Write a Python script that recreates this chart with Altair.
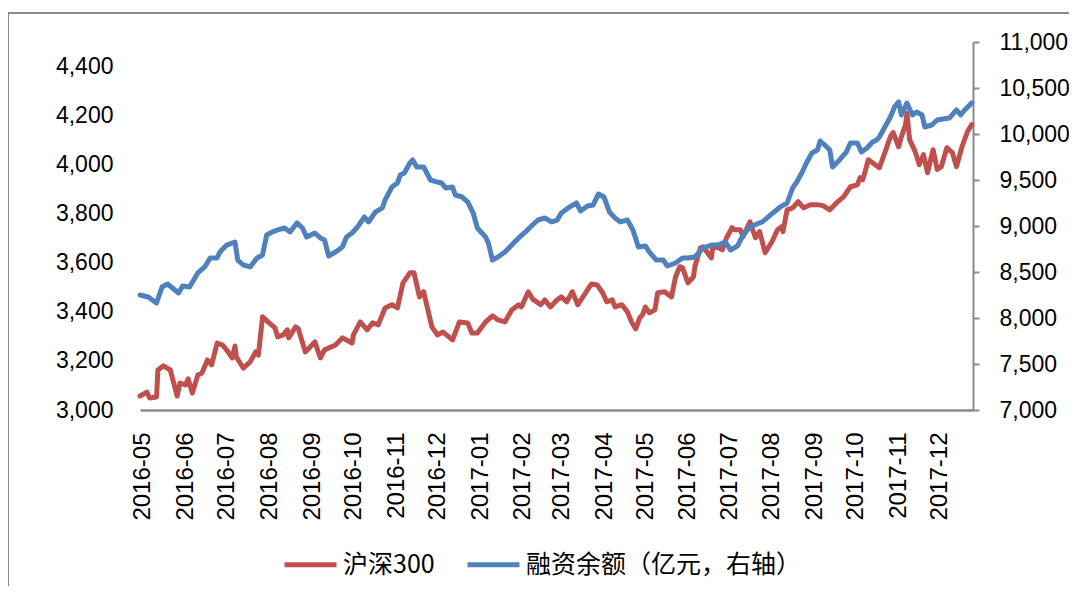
import altair as alt
import pandas as pd

# 沪深300 (left axis)
red_dates = [
    "2016-05-03", "2016-05-08", "2016-05-10", "2016-05-15", "2016-05-16", "2016-05-20", "2016-05-25",
    "2016-05-30", "2016-06-01", "2016-06-05", "2016-06-07", "2016-06-10", "2016-06-14", "2016-06-17",
    "2016-06-21", "2016-06-24", "2016-06-28", "2016-07-02", "2016-07-06", "2016-07-09", "2016-07-11",
    "2016-07-12", "2016-07-17", "2016-07-22", "2016-07-26", "2016-07-28", "2016-07-31", "2016-08-04",
    "2016-08-09", "2016-08-11", "2016-08-15", "2016-08-18", "2016-08-19", "2016-08-24", "2016-08-26",
    "2016-08-31", "2016-09-03", "2016-09-07", "2016-09-11", "2016-09-14", "2016-09-22", "2016-09-27",
    "2016-10-04", "2016-10-05", "2016-10-10", "2016-10-15", "2016-10-19", "2016-10-23", "2016-10-28",
    "2016-11-02", "2016-11-06", "2016-11-10", "2016-11-15", "2016-11-18", "2016-11-22", "2016-11-25",
    "2016-12-01", "2016-12-05", "2016-12-09", "2016-12-16", "2016-12-21", "2016-12-27", "2016-12-30",
    "2017-01-03", "2017-01-09", "2017-01-14", "2017-01-18", "2017-01-23", "2017-01-28", "2017-02-02",
    "2017-02-04", "2017-02-09", "2017-02-12", "2017-02-18", "2017-02-21", "2017-02-25", "2017-03-02",
    "2017-03-05", "2017-03-09", "2017-03-13", "2017-03-17", "2017-03-24", "2017-03-27", "2017-03-31",
    "2017-04-04", "2017-04-07", "2017-04-11", "2017-04-13", "2017-04-18", "2017-04-22", "2017-04-25",
    "2017-04-28", "2017-05-01", "2017-05-03", "2017-05-05", "2017-05-08", "2017-05-12", "2017-05-14",
    "2017-05-19", "2017-05-24", "2017-05-27", "2017-05-30", "2017-06-01", "2017-06-05", "2017-06-09",
    "2017-06-10", "2017-06-14", "2017-06-16", "2017-06-22", "2017-06-23", "2017-06-27", "2017-06-30",
    "2017-07-03", "2017-07-07", "2017-07-09", "2017-07-13", "2017-07-15", "2017-07-20", "2017-07-24",
    "2017-07-27", "2017-07-31", "2017-08-05", "2017-08-09", "2017-08-12", "2017-08-13", "2017-08-16",
    "2017-08-20", "2017-08-24", "2017-08-28", "2017-09-02", "2017-09-07", "2017-09-11", "2017-09-16",
    "2017-09-21", "2017-09-26", "2017-10-01", "2017-10-06", "2017-10-08", "2017-10-10", "2017-10-14",
    "2017-10-19", "2017-10-22", "2017-10-26", "2017-10-30", "2017-11-01", "2017-11-05", "2017-11-07",
    "2017-11-10", "2017-11-11", "2017-11-13", "2017-11-17", "2017-11-20", "2017-11-23", "2017-11-26",
    "2017-11-30", "2017-12-03", "2017-12-06", "2017-12-10", "2017-12-14", "2017-12-17", "2017-12-21",
    "2017-12-25", "2017-12-28",
]
red_values = [
    3057, 3073, 3049, 3053, 3163, 3180, 3163,
    3057, 3110, 3102, 3127, 3069, 3143, 3151,
    3204, 3184, 3273, 3265, 3237, 3212, 3261,
    3216, 3171, 3196, 3237, 3224, 3380, 3359,
    3335, 3298, 3306, 3327, 3294, 3339, 3331,
    3237, 3253, 3278, 3212, 3245, 3265, 3294,
    3273, 3306, 3359, 3327, 3355, 3347, 3416,
    3429, 3416, 3518, 3559, 3559, 3461, 3482,
    3339, 3306, 3318, 3286, 3359, 3355, 3314,
    3314, 3359, 3384, 3367, 3359, 3408, 3429,
    3420, 3482, 3453, 3429, 3449, 3420, 3449,
    3461, 3441, 3482, 3429, 3490, 3514, 3510,
    3478, 3441, 3449, 3420, 3429, 3400, 3359,
    3331, 3376, 3388, 3420, 3396, 3408, 3478,
    3482, 3461, 3543, 3584, 3580, 3518, 3543,
    3584, 3661, 3665, 3620, 3665, 3661, 3653,
    3702, 3743, 3735, 3735, 3706, 3767, 3702,
    3727, 3641, 3686, 3735, 3747, 3727, 3816,
    3824, 3849, 3824, 3837, 3837, 3833, 3816,
    3845, 3869, 3910, 3918, 3947, 3939, 4020,
    4000, 3988, 4049, 4114, 4131, 4073, 4114,
    4163, 4210, 4102, 4053, 4000, 4041, 3967,
    4061, 3980, 3992, 4069, 4049, 3992, 4073,
    4135, 4163,
]

# 融资余额 (right axis)
blue_dates = [
    "2016-05-03", "2016-05-09", "2016-05-15", "2016-05-19", "2016-05-23", "2016-05-31", "2016-06-03",
    "2016-06-08", "2016-06-14", "2016-06-19", "2016-06-23", "2016-06-28", "2016-06-30", "2016-07-05",
    "2016-07-09", "2016-07-11", "2016-07-13", "2016-07-17", "2016-07-22", "2016-07-27", "2016-07-31",
    "2016-08-03", "2016-08-07", "2016-08-11", "2016-08-16", "2016-08-20", "2016-08-25", "2016-08-29",
    "2016-09-01", "2016-09-07", "2016-09-11", "2016-09-14", "2016-09-17", "2016-09-22", "2016-09-27",
    "2016-09-30", "2016-10-04", "2016-10-08", "2016-10-13", "2016-10-16", "2016-10-21", "2016-10-26",
    "2016-10-28", "2016-11-02", "2016-11-06", "2016-11-08", "2016-11-11", "2016-11-15", "2016-11-17",
    "2016-11-20", "2016-11-25", "2016-11-30", "2016-12-05", "2016-12-08", "2016-12-11", "2016-12-16",
    "2016-12-18", "2016-12-23", "2016-12-27", "2016-12-31", "2017-01-03", "2017-01-09", "2017-01-11",
    "2017-01-14", "2017-01-18", "2017-01-23", "2017-01-28", "2017-02-02", "2017-02-07", "2017-02-12",
    "2017-02-16", "2017-02-21", "2017-02-26", "2017-03-02", "2017-03-05", "2017-03-10", "2017-03-16",
    "2017-03-19", "2017-03-24", "2017-03-28", "2017-04-01", "2017-04-05", "2017-04-09", "2017-04-13",
    "2017-04-17", "2017-04-22", "2017-04-26", "2017-04-30", "2017-05-05", "2017-05-08", "2017-05-13",
    "2017-05-18", "2017-05-21", "2017-05-27", "2017-06-01", "2017-06-05", "2017-06-10", "2017-06-16",
    "2017-06-22", "2017-06-27", "2017-07-02", "2017-07-06", "2017-07-11", "2017-07-15", "2017-07-20",
    "2017-07-25", "2017-07-29", "2017-08-04", "2017-08-11", "2017-08-16", "2017-08-20", "2017-08-23",
    "2017-08-27", "2017-08-30", "2017-09-03", "2017-09-07", "2017-09-09", "2017-09-13", "2017-09-16",
    "2017-09-18", "2017-09-23", "2017-09-28", "2017-10-01", "2017-10-06", "2017-10-09", "2017-10-13",
    "2017-10-17", "2017-10-20", "2017-10-22", "2017-10-26", "2017-10-30", "2017-11-02", "2017-11-05",
    "2017-11-07", "2017-11-11", "2017-11-15", "2017-11-18", "2017-11-22", "2017-11-24", "2017-11-29",
    "2017-12-03", "2017-12-07", "2017-12-12", "2017-12-17", "2017-12-20", "2017-12-23", "2017-12-28",
]
blue_values = [
    8250, 8228, 8163, 8337, 8370, 8272, 8348,
    8337, 8490, 8555, 8652, 8652, 8717, 8793,
    8815, 8826, 8630, 8576, 8555, 8652, 8685,
    8902, 8935, 8957, 8978, 8935, 9033, 8978,
    8880, 8924, 8870, 8848, 8674, 8717, 8772,
    8880, 8924, 8989, 9098, 9044, 9152, 9196,
    9283, 9424, 9468, 9554, 9576, 9685, 9718,
    9641, 9641, 9500, 9478, 9468, 9413, 9424,
    9337, 9315, 9261, 9141, 8978, 8880, 8815,
    8630, 8663, 8717, 8793, 8870, 8935, 9011,
    9065, 9087, 9044, 9065, 9141, 9196, 9250,
    9163, 9217, 9228, 9348, 9315, 9152, 9087,
    9044, 9065, 8957, 8772, 8783, 8717, 8630,
    8630, 8565, 8598, 8652, 8652, 8663, 8761,
    8793, 8793, 8826, 8739, 8783, 8902, 8989,
    9022, 9044, 9120, 9207, 9250, 9413, 9478,
    9587, 9685, 9794, 9826, 9924, 9870, 9826,
    9641, 9718, 9804, 9902, 9902, 9804, 9848,
    9913, 9935, 9967, 10076, 10185, 10294, 10348,
    10207, 10337, 10207, 10239, 10207, 10076, 10098,
    10152, 10163, 10174, 10261, 10207, 10261, 10337,
]

series_names = ["沪深300", "融资余额（亿元，右轴）"]
series_colors = ["#C0504D", "#4F81BD"]
month_ticks = [
    "2016-05-05", "2016-06-05", "2016-07-05", "2016-08-05", "2016-09-05", "2016-10-05",
    "2016-11-05", "2016-12-05", "2017-01-05", "2017-02-05", "2017-03-05", "2017-04-05",
    "2017-05-05", "2017-06-05", "2017-07-05", "2017-08-05", "2017-09-05", "2017-10-05",
    "2017-11-05", "2017-12-05",
]
left_ticks = [3000, 3200, 3400, 3600, 3800, 4000, 4200, 4400]
right_ticks = [7000, 7500, 8000, 8500, 9000, 9500, 10000, 10500, 11000]

df_red = pd.DataFrame({"date": red_dates, "value": red_values, "series": series_names[0]})
df_blue = pd.DataFrame({"date": blue_dates, "value": blue_values, "series": series_names[1]})

FONT = "Liberation Sans"
GRAY = "#898989"

x_scale = alt.Scale(domain=["2016-05-03", "2017-12-29"])
x_axis = alt.Axis(
    values=month_ticks, format="%Y-%m", labelAngle=-90, labelFont=FONT, labelFontSize=24,
    labelColor="#000000", labelPadding=22, ticks=False, grid=False,
    domainColor=GRAY, domainWidth=2.5, labelOverlap=False, labelFlush=False,
)
color = alt.Color(
    "series:N",
    scale=alt.Scale(domain=series_names, range=series_colors),
    legend=alt.Legend(
        title=None, orient="none", direction="horizontal",
        legendX=142, legendY=494,
        symbolType="stroke", symbolSize=2700, symbolStrokeWidth=5,
        labelFont="Noto Sans CJK SC", labelFontSize=25, labelColor="#000000",
        labelOffset=4, columnPadding=22, padding=0, labelLimit=400,
    ),
)

red = alt.Chart(df_red).mark_line(strokeWidth=5, strokeJoin="round", strokeCap="round").encode(
    x=alt.X("date:T", scale=x_scale, title=None, axis=x_axis),
    y=alt.Y(
        "value:Q", scale=alt.Scale(domain=[3000, 4500], nice=False, zero=False), title=None,
        axis=alt.Axis(
            orient="left", values=left_ticks, format=",.0f", labelFont=FONT, labelFontSize=23,
            labelColor="#000000", labelPadding=27, ticks=False, domain=False, grid=False,
        ),
    ),
    color=color,
)

blue = alt.Chart(df_blue).mark_line(strokeWidth=5, strokeJoin="round", strokeCap="round").encode(
    x=alt.X("date:T", scale=x_scale, title=None, axis=x_axis),
    y=alt.Y(
        "value:Q", scale=alt.Scale(domain=[7000, 11000], nice=False, zero=False), title=None,
        axis=alt.Axis(
            orient="right", values=right_ticks, format=",.0f", labelFont=FONT, labelFontSize=23,
            labelColor="#000000", labelPadding=20, ticks=True, tickSize=6, tickColor=GRAY,
            tickWidth=2, domainColor=GRAY, domainWidth=2, grid=False,
        ),
    ),
    color=color,
)

one = pd.DataFrame({"k": [0]})
frame_left = alt.Chart(one).mark_rule(color=GRAY, strokeWidth=2).encode(
    x=alt.value(-132), y=alt.value(-29), y2=alt.value(580)
)
frame_top = alt.Chart(one).mark_rule(color=GRAY, strokeWidth=2).encode(
    x=alt.value(-132), x2=alt.value(960), y=alt.value(-29)
)

chart = (
    alt.layer(red, blue, frame_left, frame_top)
    .resolve_scale(y="independent")
    .properties(
        width=833, height=368,
        padding={"left": 132, "top": 34, "right": 96, "bottom": 176},
        autosize=alt.AutoSizeParams(type="none"),
        background="white",
    )
    .configure_view(stroke=None)
)

chart.save("out.html", embed_options={"renderer": "svg", "actions": False})
